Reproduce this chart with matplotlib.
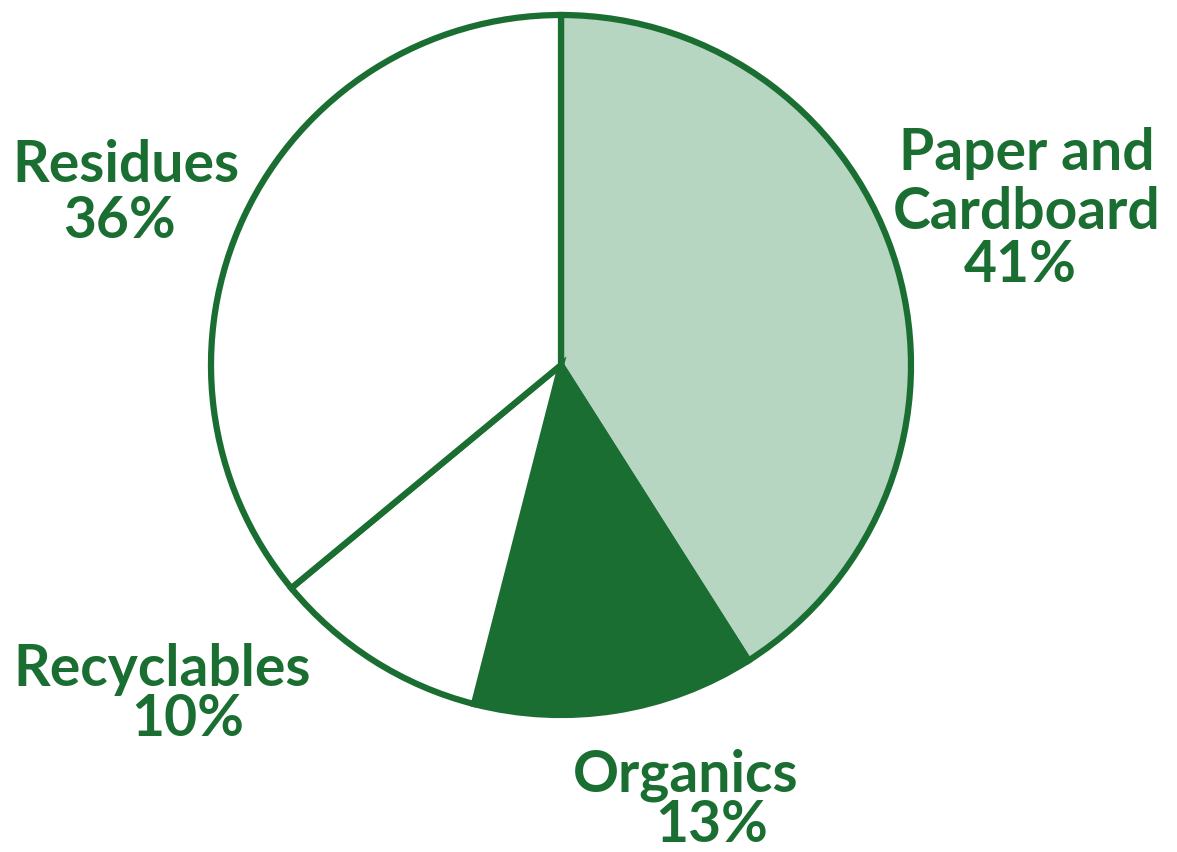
import matplotlib.pyplot as plt

categories = ['Paper and\nCardboard', 'Organics', 'Recyclables', 'Residues']
shares = [41, 13, 10, 36]
fills = ['#b7d6c2', '#1b6e32', '#ffffff', '#ffffff']
green = '#1b6e32'

# label anchor points in pixels (x, y from top) for name and percent
name_pos = [(1027, 183), (686, 775), (162, 670), (126, 166)]
pct_pos = [(1020, 265), (712, 826), (188, 720), (120, 222)]

W, H = 1177, 852
fig = plt.figure(figsize=(W / 100, H / 100), dpi=100)
ax = fig.add_axes([0, 0, 1, 1])

ax.pie(shares, colors=fills, startangle=90, counterclock=False,
       center=(561, H - 365), radius=350,
       wedgeprops=dict(edgecolor=green, linewidth=4.5))
ax.set_xlim(0, W)
ax.set_ylim(0, H)
ax.set_aspect('equal')
ax.axis('off')

font = dict(family='Lato', weight='bold', color=green, fontsize=41,
            ha='center', va='center', linespacing=1.15)
for name, (x, y) in zip(categories, name_pos):
    ax.text(x, H - y, name, **font)
for val, (x, y) in zip(shares, pct_pos):
    ax.text(x, H - y, f'{val}%', **font)

fig.savefig('out.png', dpi=100)
